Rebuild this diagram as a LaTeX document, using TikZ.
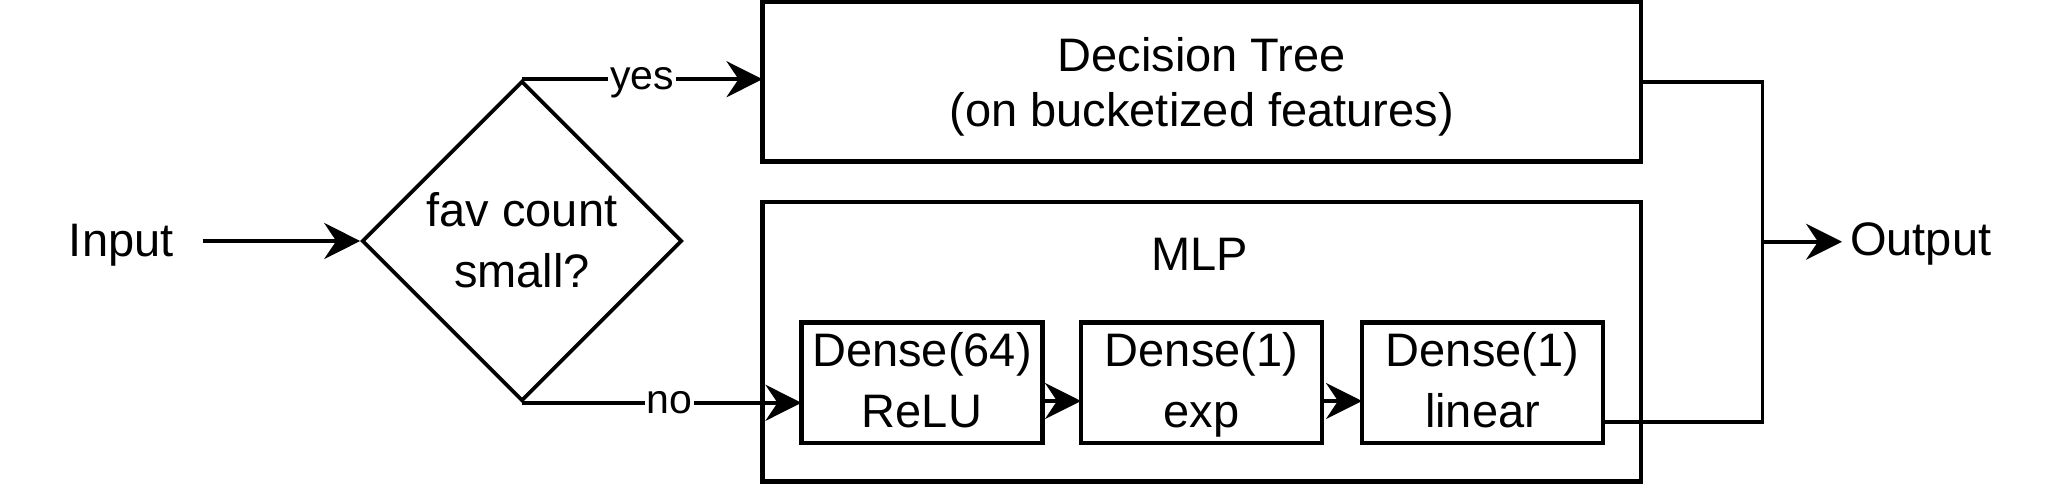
\documentclass[tikz,border=0pt]{standalone}
\usepackage{fontspec}
\setmainfont{Liberation Sans}
\usetikzlibrary{arrows.meta,shapes.geometric,calc}
\newcommand{\mytopstrut}[1]{\rule{0pt}{#1}}
\newcommand{\mybotstrut}{\rule[-15pt]{0pt}{15pt}}
\begin{document}
\begin{tikzpicture}[x=1pt,y=-1pt,
  box/.style={draw, line width=4.4pt, inner sep=0pt, outer sep=0pt},
  txt/.style={font=\fontsize{47}{61}\selectfont, align=center, inner sep=0pt},
  densebox/.style={box, minimum width=241pt, minimum height=120pt, font=\fontsize{47}{61}\selectfont, align=center},
  conn/.style={line width=3.6pt},
  arr/.style={conn, -{Stealth[length=36pt,width=36pt,inset=12pt]}},
  lbl/.style={fill=white, inner sep=2pt, text height=21pt, text depth=0pt, font=\fontsize{41}{49}\selectfont}]
\fill[white] (0,0) rectangle (2048,488);
\useasboundingbox (0,0) rectangle (2048,488);
% boxes
\node[box, minimum width=878.5pt, minimum height=159.5pt, font=\fontsize{47}{55}\selectfont, align=center] (dt) at (1201.75,81.75) {\mytopstrut{49.9pt}Decision Tree\\(on bucketized features)\mybotstrut};
\node[box, minimum width=878.5pt, minimum height=279.5pt] (mlp) at (1201.75,341.75) {};
\node[txt, anchor=base] (mlpl) at (1200,270) {MLP};
\node[densebox] (d64) at (922,382.5) {\mytopstrut{44.4pt}Dense(64)\\ReLU\mybotstrut};
\node[densebox] (exp) at (1201.5,382.5) {\mytopstrut{44.4pt}Dense(1)\\exp\mybotstrut};
\node[densebox] (lin) at (1482.5,382.5) {\mytopstrut{44.4pt}Dense(1)\\linear\mybotstrut};
% decision
\node[diamond, draw, line width=3.6pt, minimum width=320pt, minimum height=320pt, inner sep=0pt] (dec) at (522,241) {};
\node[txt] (dect) at (522,242.5) {\mytopstrut{44.4pt}fav count\\small?\mybotstrut};
% input / output
\node[txt, anchor=base] (in) at (121.2,256) {Input};
\node[txt, anchor=base west] (out) at (1850,255) {Output};
\coordinate (jn) at (1762.5,241.75);
% connectors
\draw[arr] ($(in.east |- dec.west)+(29,0)$) -- (dec.west);
\draw[arr] (dec.north) -- (dec.north -| dt.west) node[pos=0.5, lbl] {yes};
\draw[arr] (dec.south) -- (dec.south -| d64.west) node[pos=0.527, lbl] {no};
\draw[arr] ($(d64.east)+(0,18.5)$) -- ($(exp.west)+(0,18.5)$);
\draw[arr] ($(exp.east)+(0,18.5)$) -- ($(lin.west)+(0,18.5)$);
\draw[conn] (dt.east) -| (jn) |- ($(lin.east)+(0,39.5)$);
\draw[arr] (jn) -- ($(out.west |- jn)+(-8,0)$);
\end{tikzpicture}
\end{document}
